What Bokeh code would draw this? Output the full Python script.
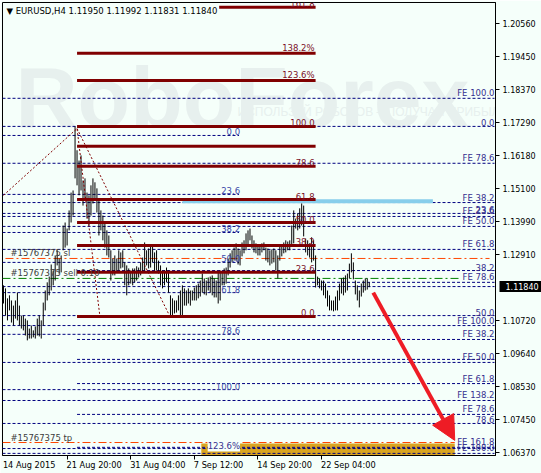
from bokeh.plotting import figure
from bokeh.models import (ColumnDataSource, Label, Arrow, NormalHead, FixedTicker,
                          PrintfTickFormatter, Range1d, LinearAxis)
from bokeh.core.properties import value
from bokeh.embed import file_html
from bokeh.resources import INLINE

BG = "#F5FFFA"
NAVY = "#000080"
MAROON = "#800000"
FONT = "DejaVu Sans"

# ---------------- data ----------------
title_text = "\u25bc EURUSD,H4  1.11950 1.11992 1.11831 1.11840"
last_price = 1.1184

bar_high = [1.1189, 1.1179, 1.1146, 1.1156, 1.1139, 1.1122, 1.1139, 1.1165, 1.1122, 1.1089,
            1.1089, 1.1079, 1.1073, 1.1046, 1.1056, 1.1040, 1.1053, 1.1079, 1.1089, 1.1073,
            1.1132, 1.1172, 1.1199, 1.1218, 1.1258, 1.1238, 1.1288, 1.1305, 1.1278, 1.1288,
            1.1387, 1.1397, 1.1377, 1.1437, 1.1496, 1.1503, 1.1715, 1.1636, 1.1602, 1.1619,
            1.1536, 1.1543, 1.1496, 1.1487, 1.1520, 1.1543, 1.1530, 1.1510, 1.1477, 1.1437,
            1.1420, 1.1394, 1.1371, 1.1354, 1.1305, 1.1278, 1.1288, 1.1278, 1.1305, 1.1298,
            1.1305, 1.1265, 1.1255, 1.1245, 1.1238, 1.1245, 1.1245, 1.1252, 1.1248, 1.1265,
            1.1281, 1.1331, 1.1305, 1.1311, 1.1321, 1.1321, 1.1298, 1.1305, 1.1271, 1.1255,
            1.1238, 1.1238, 1.1248, 1.1238, 1.1156, 1.1146, 1.1139, 1.1139, 1.1156, 1.1172,
            1.1189, 1.1179, 1.1172, 1.1179, 1.1172, 1.1172, 1.1182, 1.1189, 1.1195, 1.1205,
            1.1228, 1.1212, 1.1205, 1.1215, 1.1218, 1.1222, 1.1212, 1.1205, 1.1232, 1.1238,
            1.1232, 1.1245, 1.1248, 1.1278, 1.1295, 1.1305, 1.1314, 1.1328, 1.1311, 1.1305,
            1.1331, 1.1338, 1.1361, 1.1371, 1.1377, 1.1354, 1.1338, 1.1328, 1.1324, 1.1321,
            1.1328, 1.1331, 1.1314, 1.1311, 1.1305, 1.1308, 1.1311, 1.1305, 1.1288, 1.1321,
            1.1324, 1.1331, 1.1338, 1.1334, 1.1338, 1.1387, 1.1437, 1.1410, 1.1427, 1.1444,
            1.1460, 1.1453, 1.1344, 1.1338, 1.1328, 1.1348, 1.1338, 1.1288, 1.1218, 1.1212,
            1.1205, 1.1205, 1.1195, 1.1172, 1.1156, 1.1139, 1.1139, 1.1152, 1.1172, 1.1195,
            1.1212, 1.1215, 1.1222, 1.1228, 1.1261, 1.1295, 1.1265, 1.1205, 1.1189, 1.1172,
            1.1195, 1.1205, 1.1212, 1.1212, 1.1199]
bar_low = [1.1129, 1.1089, 1.1073, 1.1106, 1.1066, 1.1056, 1.1079, 1.1073, 1.1056, 1.1046,
           1.1040, 1.1023, 1.1007, 1.1013, 1.1013, 1.1017, 1.1013, 1.1023, 1.1020, 1.1013,
           1.1056, 1.1106, 1.1139, 1.1156, 1.1172, 1.1189, 1.1205, 1.1255, 1.1228, 1.1232,
           1.1305, 1.1314, 1.1321, 1.1371, 1.1397, 1.1420, 1.1543, 1.1520, 1.1487, 1.1503,
           1.1453, 1.1470, 1.1410, 1.1387, 1.1420, 1.1460, 1.1470, 1.1430, 1.1354, 1.1371,
           1.1338, 1.1314, 1.1288, 1.1281, 1.1205, 1.1222, 1.1222, 1.1232, 1.1238, 1.1245,
           1.1248, 1.1189, 1.1156, 1.1189, 1.1195, 1.1189, 1.1199, 1.1205, 1.1215, 1.1222,
           1.1232, 1.1238, 1.1255, 1.1245, 1.1248, 1.1265, 1.1238, 1.1238, 1.1228, 1.1189,
           1.1179, 1.1189, 1.1199, 1.1165, 1.1083, 1.1089, 1.1096, 1.1099, 1.1106, 1.1089,
           1.1086, 1.1122, 1.1122, 1.1129, 1.1122, 1.1139, 1.1139, 1.1139, 1.1146, 1.1152,
           1.1165, 1.1159, 1.1156, 1.1172, 1.1165, 1.1156, 1.1149, 1.1149, 1.1129, 1.1139,
           1.1189, 1.1189, 1.1195, 1.1222, 1.1248, 1.1265, 1.1271, 1.1271, 1.1258, 1.1255,
           1.1285, 1.1295, 1.1305, 1.1321, 1.1338, 1.1311, 1.1298, 1.1295, 1.1288, 1.1288,
           1.1298, 1.1305, 1.1271, 1.1265, 1.1255, 1.1261, 1.1265, 1.1238, 1.1212, 1.1271,
           1.1285, 1.1295, 1.1298, 1.1305, 1.1305, 1.1321, 1.1328, 1.1377, 1.1371, 1.1377,
           1.1387, 1.1351, 1.1298, 1.1288, 1.1281, 1.1265, 1.1271, 1.1182, 1.1189, 1.1179,
           1.1172, 1.1156, 1.1146, 1.1119, 1.1106, 1.1106, 1.1103, 1.1106, 1.1106, 1.1139,
           1.1162, 1.1156, 1.1165, 1.1172, 1.1212, 1.1232, 1.1209, 1.1159, 1.1139, 1.1116,
           1.1152, 1.1165, 1.1172, 1.1175, 1.1183]
bar_index = list(range(len(bar_high)))

price_ticks = [1.20560, 1.19450, 1.18370, 1.17290, 1.16180, 1.15100, 1.13990,
               1.12910, 1.10720, 1.09640, 1.08530, 1.07450, 1.06370]
time_tick_index = [32, 64, 96, 128, 160]
time_labels = ["14 Aug 2015", "21 Aug 20:00", "31 Aug 04:00",
               "7 Sep 12:00", "14 Sep 20:00", "22 Sep 04:00"]
# label centres (labels start at bar 0 and at each tick, left aligned)
time_label_center = [12.9, 45.6, 77.6, 108.2, 141.4, 173.5]

# maroon Fibonacci object (bar anchors 37 -> 157)
fibm_labels = ["161.8", "138.2%", "123.6%", "100.0", "", "78.6", "61.8", "50.0", "38.2", "23.6", "0.0"]
fibm_prices = [1.2109, 1.1957, 1.1867, 1.1715, 1.1649, 1.1583, 1.1473, 1.1397, 1.1321, 1.1232, 1.1086]
fibm_start = [108.5, 37, 37, 37, 37, 37, 37, 37, 37, 37, 37]
fibm_end = 157

# navy dashed level lines (price, first bar, last bar)
lvl_prices = [1.1808, 1.1715, 1.1593, 1.1463, 1.1427, 1.1417, 1.1384, 1.1308, 1.1185,
              1.1089, 1.1056, 1.0934, 1.0808, 1.0732, 1.0649, 1.0633,
              1.1238, 1.1199, 1.1010, 1.0944, 1.0864, 1.0762, 1.0653,
              1.1685, 1.1490, 1.1364, 1.1265, 1.1165, 1.1027, 1.0844]
lvl_start = [-0.5] * 16 + [37] * 7 + [-0.5] * 7
lvl_end = [247] * 23 + [118.5] * 7

right_label_text = ["FE 100.0", "0.0", "FE 78.6", "FE 38.2", "23.6", "FE 23.6", "FE 50.0",
                    "FE 61.8", "38.2", "FE 78.6", "50.0", "FE 100.0", "FE 38.2", "FE 50.0",
                    "FE 61.8", "FE 138.2", "FE 78.6", "78.6", "FE 161.8", "FE 100.0"]
right_label_price = [1.1808, 1.1715, 1.1593, 1.1463, 1.1427, 1.1417, 1.1384,
                     1.1308, 1.1238, 1.1199, 1.1089, 1.1056, 1.1010, 1.0934,
                     1.0864, 1.0808, 1.0762, 1.0732, 1.0653, 1.0633]

left_label_text = ["0.0", "23.6", "38.2", "50.0", "61.8", "78.6", "100.0"]
left_label_price = [1.1685, 1.1490, 1.1364, 1.1265, 1.1165, 1.1027, 1.0844]
left_label_bar = 119
fe_bottom_label = "123.6%"
fe_bottom_price = 1.0656

# order lines
order_text = ["#15767375 sl", "#15767375 sell 0.10", "#15767375 tp"]
order_price = [1.1278, 1.1212, 1.0669]
order_start = [1, -0.5, -0.5]
order_end = [244.5, 230, 227]
order_color = ["#FF4500", "#008000", "#FF4500"]

# other drawing objects
blue_level = 1.1467
blue_span = (90, 216)
zone_bars = (99.5, 227)
zone_prices = (1.0626, 1.0666)
arrow_from = (186, 1.1165)
arrow_to = (227, 1.0676)
zig_a_x = [0, 37, 48.5]
zig_a_y = [1.1487, 1.1708, 1.1086]
zig_b_x = [37, 83.5]
zig_b_y = [1.1708, 1.1089]

# ---------------- figure ----------------
X0, X1 = -0.5, 247.5
p = figure(width=541, height=473, output_backend="svg", toolbar_location=None,
           x_range=Range1d(X0, X1), y_range=Range1d(1.0626, 1.2125),
           y_axis_location="right", min_border_left=2, min_border_right=43,
           min_border_top=2, min_border_bottom=18,
           background_fill_color=BG, border_fill_color=BG,
           outline_line_color="black", outline_line_width=1)
p.grid.visible = False

yax = p.yaxis[0]
yax.ticker = FixedTicker(ticks=price_ticks)
yax.formatter = PrintfTickFormatter(format="%.5f")
yax.major_tick_in = 0
yax.major_tick_out = 4
yax.minor_tick_line_color = None
yax.major_label_standoff = 3
yax.major_label_text_font = FONT
yax.major_label_text_font_size = "8px"
yax.major_label_text_color = "black"
yax.axis_line_color = "black"

xax = p.xaxis[0]
xax.ticker = FixedTicker(ticks=time_label_center, minor_ticks=time_tick_index)
xax.major_label_overrides = {c: t for c, t in zip(time_label_center, time_labels)}
xax.major_tick_in = 0
xax.major_tick_out = 0
xax.major_tick_line_color = None
xax.minor_tick_in = 0
xax.minor_tick_out = 4
xax.minor_tick_line_color = "black"
xax.major_label_standoff = 0
xax.major_label_text_font = FONT
xax.major_label_text_font_size = "8.2px"
xax.major_label_text_color = "black"
xax.axis_line_color = "black"

# current price tag: outer axis of ~zero width whose single thick inward tick
# forms the black box behind the white price label
tag_axis = LinearAxis(ticker=FixedTicker(ticks=[last_price]),
                      formatter=PrintfTickFormatter(format="%.5f"),
                      axis_line_color=None, major_tick_in=39, major_tick_out=3,
                      major_tick_line_width=11, major_tick_line_color="black",
                      minor_tick_line_color=None, major_label_standoff=-36,
                      major_label_text_color="white", major_label_text_font=FONT,
                      major_label_text_font_size="8px")
p.add_layout(tag_axis, "right")

# watermark
p.add_layout(Label(x=13, y=359, x_units="screen", y_units="screen", text="RoboForex",
                   text_font="Liberation Sans", text_font_style="bold",
                   text_font_size="86px", text_color="#E7F0EE",
                   text_baseline="alphabetic", level="underlay"))
p.add_layout(Label(x=235, y=344, x_units="screen", y_units="screen",
                   text="\u0418\u0421\u041f\u041e\u041b\u042c\u0417\u0423\u0419 \u0420\u041e\u0411\u041e\u0422\u041e\u0412 \u2013 \u041f\u041e\u041b\u0423\u0427\u0410\u0419 \u041f\u0420\u0418\u0411\u042b\u041b\u042c",
                   text_font="Liberation Sans", text_font_size="12px", text_color="#E7F0EE",
                   text_baseline="alphabetic", level="underlay"))

# gold zone
p.quad(left=[zone_bars[0]], right=[zone_bars[1]], bottom=[zone_prices[0]],
       top=[zone_prices[1]], fill_color="#DAA520", line_color=None)

# dashed navy levels
lvl_src = ColumnDataSource(dict(x0=lvl_start, x1=lvl_end, y=lvl_prices))
p.segment(x0="x0", y0="y", x1="x1", y1="y", source=lvl_src,
          line_color=NAVY, line_width=1, line_dash="3 2")

# order lines
ord_src = ColumnDataSource(dict(x0=order_start, x1=order_end, y=order_price, c=order_color))
p.segment(x0="x0", y0="y", x1="x1", y1="y", source=ord_src,
          line_color="c", line_width=1, line_dash="8 3 2 3")

# light blue level
p.segment(x0=[blue_span[0]], y0=[blue_level], x1=[blue_span[1]], y1=[blue_level],
          line_color="#87CEEB", line_width=4)

# candles
bar_src = ColumnDataSource(dict(x=bar_index, h=bar_high, l=bar_low))
p.segment(x0="x", y0="l", x1="x", y1="h", source=bar_src, line_color="black", line_width=1)

# maroon fibo
fm_src = ColumnDataSource(dict(x0=fibm_start, x1=[fibm_end] * len(fibm_prices), y=fibm_prices))
p.segment(x0="x0", y0="y", x1="x1", y1="y", source=fm_src, line_color=MAROON, line_width=3)
p.line(zig_a_x, zig_a_y, line_color=MAROON, line_width=1, line_dash="2 2")
p.line(zig_b_x, zig_b_y, line_color=MAROON, line_width=1, line_dash="2 2")

# labels
fml = ColumnDataSource(dict(x=[fibm_end - 0.5] * len(fibm_prices), y=fibm_prices, t=fibm_labels))
p.text(x="x", y="y", text="t", source=fml, text_font=value(FONT), text_font_size="8.5px",
       text_color="#7B1028", text_align="right", text_baseline="bottom")

rl = ColumnDataSource(dict(x=[247] * len(right_label_text), y=right_label_price, t=right_label_text))
p.text(x="x", y="y", text="t", source=rl, text_font=value(FONT), text_font_size="8.5px",
       text_color="#35308F", text_align="right", text_baseline="bottom")

ll = ColumnDataSource(dict(x=[left_label_bar] * len(left_label_text), y=left_label_price, t=left_label_text))
p.text(x="x", y="y", text="t", source=ll, text_font=value(FONT), text_font_size="8.5px",
       text_color="#3A48A8", text_align="right", text_baseline="bottom")

ol = ColumnDataSource(dict(x=[3.5] * 3, y=order_price, t=order_text))
p.text(x="x", y="y", text="t", source=ol, text_font=value(FONT), text_font_size="8.5px",
       text_color="#3C3C3C", text_align="left", text_baseline="bottom")

p.add_layout(Label(x=left_label_bar, y=fe_bottom_price, text=fe_bottom_label,
                   text_font=FONT, text_font_size="8.5px", text_color="#35308F",
                   text_align="right", text_baseline="middle",
                   background_fill_color=BG))

# arrow
RED = "#EE1C25"
p.add_layout(Arrow(end=NormalHead(size=24, fill_color=RED, line_color=RED),
                   x_start=arrow_from[0], y_start=arrow_from[1],
                   x_end=arrow_to[0], y_end=arrow_to[1],
                   line_color=RED, line_width=4))

# title
p.add_layout(Label(x=4, y=445, x_units="screen", y_units="screen", text=title_text,
                   text_font=FONT, text_font_size="8.5px", text_color="black",
                   text_baseline="middle"))

open("out.html", "w").write(file_html(p, INLINE))
